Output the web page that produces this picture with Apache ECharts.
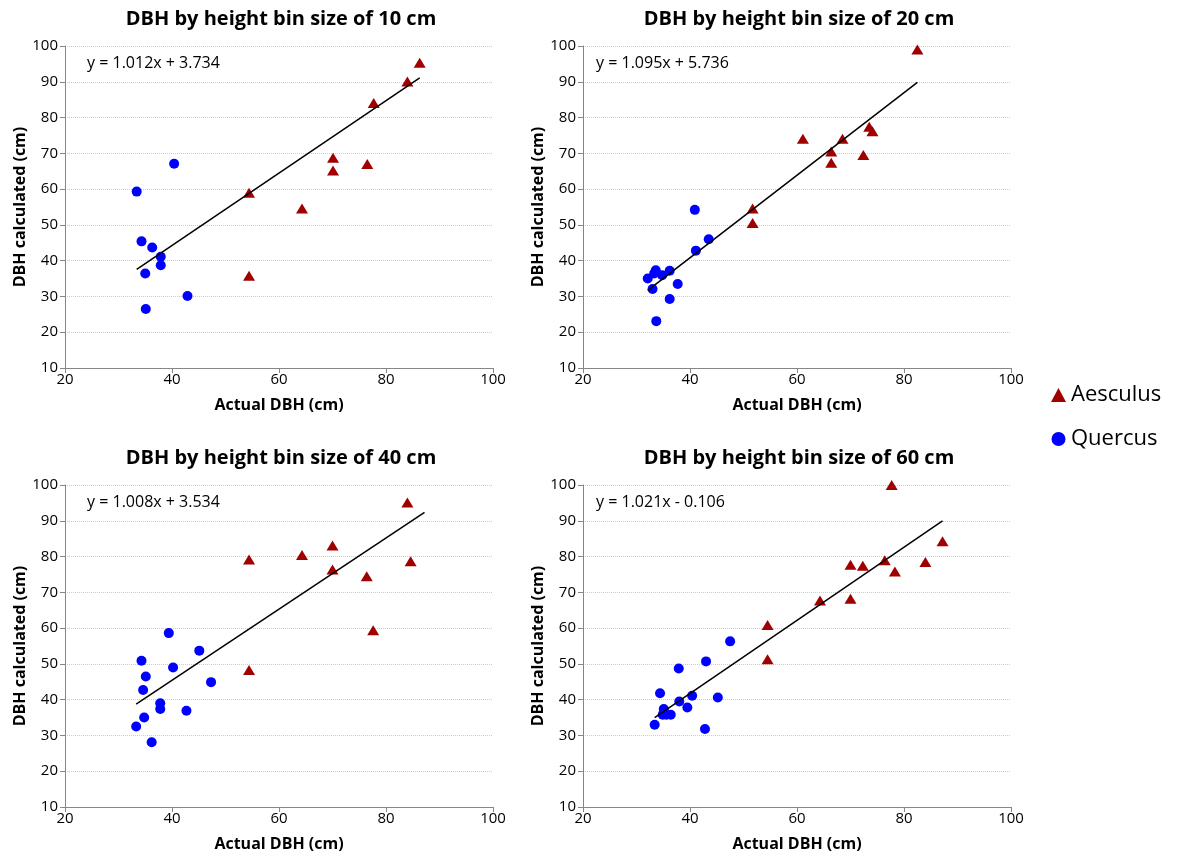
<!DOCTYPE html>
<html lang="en">
<head>
<meta charset="UTF-8">
<title>DBH by height bin size</title>
<style>
  html, body { margin: 0; padding: 0; background: #fff; }
  #main { width: 1179px; height: 856px; }
</style>
</head>
<body>
<div id="main"></div>
<script src="https://cdn.jsdelivr.net/npm/echarts@6/dist/echarts.min.js"></script>
<script>
// ---- data ----
var titles = [
  'DBH by height bin size of 10 cm',
  'DBH by height bin size of 20 cm',
  'DBH by height bin size of 40 cm',
  'DBH by height bin size of 60 cm'
];
var equations = [
  'y = 1.012x + 3.734',
  'y = 1.095x + 5.736',
  'y = 1.008x + 3.534',
  'y = 1.021x - 0.106'
];
var xTicks = [20, 40, 60, 80, 100];
var yTicks = [10, 20, 30, 40, 50, 60, 70, 80, 90, 100];
var speciesNames = ['Aesculus', 'Quercus'];

// [actual DBH, DBH calculated]
var aesculus10 = [[86.3, 95.3], [84.0, 90.1], [77.7, 84.1], [70.1, 68.8], [70.1, 65.2],
  [76.5, 67.0], [54.4, 59.0], [64.3, 54.6], [54.4, 35.8]];
var quercus10 = [[40.4, 67.1], [33.4, 59.3], [34.3, 45.4], [36.3, 43.7], [37.9, 41.1],
  [37.9, 38.7], [35.0, 36.4], [42.9, 30.1], [35.1, 26.5]];

var aesculus20 = [[82.5, 99.0], [61.1, 74.1], [68.5, 74.1], [66.4, 70.5], [66.4, 67.4],
  [72.4, 69.5], [73.5, 77.4], [74.1, 76.2], [51.7, 54.6], [51.7, 50.5]];
var quercus20 = [[32.1, 35.0], [33.3, 36.4], [33.6, 37.3], [34.8, 35.9], [36.2, 37.2],
  [37.7, 33.5], [33.0, 32.1], [36.2, 29.3], [33.7, 23.1], [40.9, 54.2], [41.1, 42.8], [43.5, 46.0]];

var aesculus40 = [[84.0, 95.1], [70.0, 83.1], [64.3, 80.4], [54.4, 79.2], [70.0, 76.4],
  [84.6, 78.7], [76.4, 74.5], [77.6, 59.4], [54.4, 48.3]];
var quercus40 = [[39.4, 58.6], [34.3, 50.9], [35.1, 46.5], [34.6, 42.7], [40.2, 49.0],
  [37.8, 39.0], [37.8, 37.4], [34.8, 35.0], [33.3, 32.5], [36.2, 28.1], [42.7, 36.9],
  [45.1, 53.7], [47.3, 44.9]];

var aesculus60 = [[77.7, 100.0], [70.0, 77.7], [72.3, 77.4], [76.4, 79.0], [78.3, 75.8],
  [84.0, 78.5], [87.2, 84.3], [64.3, 67.7], [70.0, 68.2], [54.5, 60.9], [54.5, 51.3]];
var quercus60 = [[47.5, 56.3], [43.0, 50.7], [37.9, 48.7], [34.4, 41.8], [35.1, 37.4],
  [34.9, 35.8], [35.6, 35.8], [36.4, 35.8], [38.0, 39.5], [39.5, 37.8], [40.4, 41.1],
  [33.4, 33.0], [42.8, 31.8], [45.2, 40.6]];

var aesculusSets = [aesculus10, aesculus20, aesculus40, aesculus60];
var quercusSets = [quercus10, quercus20, quercus40, quercus60];

// trend lines as drawn (slope, intercept, x span)
var trendSlope = [1.012, 1.153, 0.995, 1.022];
var trendIntercept = [3.734, -5.3, 5.6, 0.86];
var trendFrom = [33.4, 32.1, 33.3, 33.4];
var trendTo = [86.3, 82.5, 87.2, 87.2];

// ---- layout ----
var boxes = [
  { left: 65, top: 46 },
  { left: 583, top: 46 },
  { left: 65, top: 485 },
  { left: 583, top: 485 }
];
var plotW = 428, plotH = 322;
var font = 'Open Sans';

var grid = [], xAxis = [], yAxis = [], series = [], title = [], graphic = [];

boxes.forEach(function (b, i) {
  grid.push({ left: b.left, top: b.top, width: plotW, height: plotH });

  xAxis.push({
    gridIndex: i, type: 'value',
    min: xTicks[0], max: xTicks[xTicks.length - 1], interval: xTicks[1] - xTicks[0],
    name: 'Actual DBH (cm)', nameLocation: 'middle', nameGap: 29,
    nameTextStyle: { fontFamily: font, fontWeight: 'bold', fontSize: 16, color: '#000' },
    axisLine: { show: true, onZero: false, lineStyle: { color: '#868686', width: 1 } },
    axisTick: { show: true, length: 5, lineStyle: { color: '#868686' } },
    axisLabel: { margin: 4, fontFamily: font, fontSize: 15, color: '#000' },
    splitLine: { show: false }
  });

  yAxis.push({
    gridIndex: i, type: 'value',
    min: yTicks[0], max: yTicks[yTicks.length - 1], interval: yTicks[1] - yTicks[0],
    name: 'DBH calculated (cm)', nameLocation: 'middle', nameGap: 37,
    nameTextStyle: { fontFamily: font, fontWeight: 'bold', fontSize: 16, color: '#000' },
    axisLine: { show: true, lineStyle: { color: '#868686', width: 1 } },
    axisTick: { show: true, length: 5, lineStyle: { color: '#868686' } },
    axisLabel: { margin: 7, fontFamily: font, fontSize: 15, color: '#000' },
    splitLine: { show: true, lineStyle: { color: '#cccccc', type: 'dotted', width: 1 } }
  });

  title.push({
    text: titles[i], left: b.left + plotW / 2 - 3, top: b.top - 42, textAlign: 'center',
    textStyle: { fontFamily: font, fontWeight: 'bold', fontSize: 20, color: '#000' }
  });

  graphic.push({
    type: 'text', left: b.left + (i % 2 === 0 ? 22 : 13), top: b.top + 9,
    style: { text: equations[i], font: '16px "' + font + '"', fill: '#000' }
  });

  series.push({
    name: speciesNames[0], type: 'scatter', xAxisIndex: i, yAxisIndex: i,
    symbol: 'triangle', symbolSize: [12, 10],
    itemStyle: { color: '#a00000', opacity: 1 },
    data: aesculusSets[i]
  });
  series.push({
    name: speciesNames[1], type: 'scatter', xAxisIndex: i, yAxisIndex: i,
    symbol: 'circle', symbolSize: 10,
    itemStyle: { color: '#0000ff', opacity: 1 },
    data: quercusSets[i]
  });

  series.push({
    type: 'line', xAxisIndex: i, yAxisIndex: i, z: 5, silent: true,
    symbol: 'none',
    lineStyle: { color: '#000', width: 1.5 },
    data: [
      [trendFrom[i], trendSlope[i] * trendFrom[i] + trendIntercept[i]],
      [trendTo[i], trendSlope[i] * trendTo[i] + trendIntercept[i]]
    ]
  });
});

var myChart = echarts.init(document.getElementById('main'));
myChart.setOption({
  backgroundColor: '#fff',
  animation: false,
  title: title,
  grid: grid,
  xAxis: xAxis,
  yAxis: yAxis,
  graphic: graphic,
  legend: {
    data: [
      { name: speciesNames[0], icon: 'triangle', itemStyle: { color: '#a00000' } },
      { name: speciesNames[1], icon: 'circle', itemStyle: { color: '#0000ff' } }
    ],
    orient: 'vertical', left: 1046, top: 379,
    itemWidth: 15, itemHeight: 14, itemGap: 22,
    textStyle: { fontFamily: font, fontSize: 22, color: '#000' }
  },
  series: series
});
</script>
</body>
</html>
